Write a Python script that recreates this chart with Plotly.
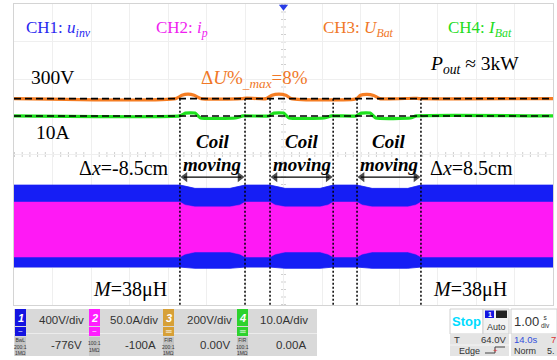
import plotly.graph_objects as go

W, H = 557, 360

# ---------------- data ----------------
# time axis in seconds (1 s/div, 14 divisions shown)
t_env = [0.0, 4.31, 4.44, 4.70, 5.61, 5.87, 6.00, 6.65, 6.78, 7.04, 7.95, 8.16,
         8.29, 8.91, 9.04, 9.30, 10.23, 10.44, 10.57, 14.0]
# CH1 inverter voltage envelope (V)
u_inv_top = [451, 451, 440, 416, 416, 436, 451, 451, 440, 416, 416, 436,
             451, 451, 440, 416, 416, 436, 451, 451]
u_inv_bot = [-421, -421, -428, -434, -434, -428, -421, -421, -428, -434, -434, -428,
             -421, -421, -428, -434, -434, -428, -421, -421]
# CH2 primary current envelope (A)
i_p_top = [36.8, 36.8, 33.0, 30.4, 30.4, 33.0, 36.8, 36.8, 33.0, 30.4, 30.4, 33.0,
           36.8, 36.8, 33.0, 30.4, 30.4, 33.0, 36.8, 36.8]
i_p_bot = [-36.3, -36.3, -32.5, -29.6, -29.6, -32.5, -36.3, -36.3, -32.5, -29.6, -29.6, -32.5,
           -36.3, -36.3, -32.5, -29.6, -29.6, -32.5, -36.3, -36.3]
# CH3 battery voltage (V)
t_ubat = [0.0, 4.20, 4.36, 4.52, 4.68, 4.86, 5.90, 6.05, 6.55, 6.70, 6.88, 7.06, 7.20,
          8.90, 9.00, 9.17, 9.34, 9.50, 10.40, 10.55, 14.0]
u_bat = [297, 297, 315, 321, 315, 297, 297, 300, 297, 315, 321, 315, 297,
         297, 315, 320, 314, 297, 299, 297, 297]
# CH4 battery current (A)
t_ibat = [0.0, 4.30, 4.45, 4.70, 4.85, 5.75, 5.95, 6.62, 6.75, 7.00, 7.15, 8.05,
          8.25, 8.88, 9.02, 9.25, 9.40, 10.30, 10.45, 14.0]
i_bat = [10.25, 10.25, 11.0, 11.0, 9.7, 9.7, 10.25, 10.25, 11.0, 11.0, 9.7, 9.7,
         10.25, 10.25, 11.0, 11.0, 9.7, 9.7, 10.25, 10.25]
# reference (dashed) levels for CH3 / CH4
ref_ubat = 297
ref_ibat = 10.25
# coil moving intervals (s)
mov_start = [4.31, 6.65, 8.91]
mov_end = [6.00, 8.29, 10.57]
# scope channel settings
ch_scale = [400, 50, 200, 10]
ch_offset = [-776, -100, 0, 0]
ch_scale_lbl = ["400V/div", "50.0A/div", "200V/div", "10.0A/div"]
ch_offset_lbl = ["-776V", "-100A", "0.00V", "0.00A"]
ch_probe_lbl = ["BwL<br>200:1<br>1MΩ", "100:1<br>1MΩ", "FIR<br>200:1<br>1MΩ", "FIR<br>100:1<br>1MΩ"]
ch_coupling = ["~", "~", "═", "═"]


def to_div(vals, ch):
    return [(v + ch_offset[ch]) / ch_scale[ch] for v in vals]


def px(x):
    return x / W


def py(y):
    return 1 - y / H


C_BLUE = "rgb(22,30,245)"
C_PINK = "rgb(255,25,245)"
C_ORANGE = "rgb(245,125,35)"
C_GREEN = "rgb(30,225,30)"
SERIF = "Liberation Serif"
SANS = "Liberation Sans"

fig = go.Figure()

# CH1 envelope (blue)
fig.add_trace(go.Scatter(
    x=t_env + t_env[::-1], y=to_div(u_inv_top, 0) + to_div(u_inv_bot, 0)[::-1],
    fill="toself", fillcolor=C_BLUE, line=dict(width=0.8, color=C_BLUE), mode="lines",
    hoverinfo="skip"))
# CH2 envelope (magenta)
fig.add_trace(go.Scatter(
    x=t_env + t_env[::-1], y=to_div(i_p_top, 1) + to_div(i_p_bot, 1)[::-1],
    fill="toself", fillcolor=C_PINK, line=dict(width=0.5, color=C_PINK), mode="lines",
    hoverinfo="skip"))
# CH3 / CH4
fig.add_trace(go.Scatter(x=t_ubat, y=to_div(u_bat, 2), mode="lines",
                         line=dict(color=C_ORANGE, width=3.2, shape="spline", smoothing=0.6)))
fig.add_trace(go.Scatter(x=t_ibat, y=to_div(i_bat, 3), mode="lines",
                         line=dict(color=C_GREEN, width=3.2, shape="spline", smoothing=0.4)))
# dashed reference lines
for lvl, ch in [(ref_ubat, 2), (ref_ibat, 3)]:
    fig.add_trace(go.Scatter(x=[0, 14], y=to_div([lvl, lvl], ch), mode="lines",
                             line=dict(color="black", width=1.6, dash="7px,4px")))
# dotted vertical boundaries
top_div = to_div([ref_ubat], 2)[0]
for t in mov_start + mov_end:
    fig.add_trace(go.Scatter(x=[t, t], y=[top_div, -4.0], mode="lines",
                             line=dict(color="black", width=1.5, dash="2px,2px")))
# double-headed arrows for the coil-moving intervals
arrow_y = -0.60
for s, e in zip(mov_start, mov_end):
    fig.add_trace(go.Scatter(x=[s + 0.1, e - 0.1], y=[arrow_y, arrow_y], mode="lines",
                             line=dict(color="black", width=1.4)))
    fig.add_trace(go.Scatter(x=[s + 0.13, e - 0.13], y=[arrow_y, arrow_y], mode="markers",
                             marker=dict(symbol=["triangle-left", "triangle-right"], size=[9, 9],
                                         color="black", line=dict(width=0))))
# trigger marker
fig.add_trace(go.Scatter(x=[7.0], y=[3.93], mode="markers", cliponaxis=False,
                         marker=dict(symbol="triangle-down", size=8, color="rgb(40,60,230)")))

shapes = []
# centre cross with ticks
shapes.append(dict(type="line", xref="x", yref="y", x0=0, x1=14, y0=0, y1=0,
                   line=dict(color="#dcdcdc", width=1), layer="below"))
shapes.append(dict(type="line", xref="x", yref="y", x0=0, x1=14, y0=0, y1=0,
                   line=dict(color="#cfcfcf", width=5, dash="1px,6.7px"), layer="below"))
shapes.append(dict(type="line", xref="x", yref="y", x0=7, x1=7, y0=-4, y1=4,
                   line=dict(color="#dcdcdc", width=1), layer="below"))
shapes.append(dict(type="line", xref="x", yref="y", x0=7, x1=7, y0=-4, y1=4,
                   line=dict(color="#cfcfcf", width=5, dash="1px,6.5px"), layer="below"))


def rect(x0, y0, x1, y1, fill, line="rgba(0,0,0,0)", lw=1):
    shapes.append(dict(type="rect", xref="paper", yref="paper", x0=px(x0), x1=px(x1),
                       y0=py(y1), y1=py(y0), fillcolor=fill, line=dict(color=line, width=lw),
                       layer="above"))


anns = []


def txt(x, y, text, size, color="black", family=SERIF, xanchor="left", yanchor="middle"):
    anns.append(dict(x=px(x), y=py(y), xref="paper", yref="paper", text=text, showarrow=False,
                     xanchor=xanchor, yanchor=yanchor, borderpad=0,
                     font=dict(size=size, color=color, family=family)))


# ---------------- bottom status bar ----------------
rect(14, 309, 317, 356, "#d9d9d9")
shapes.append(dict(type="line", xref="paper", yref="paper", x0=px(14), x1=px(317),
                   y0=py(333.5), y1=py(333.5), line=dict(color="#ececec", width=1)))
box_x = [15, 89, 163, 237]
box_col = ["rgb(20,20,225)", "rgb(255,30,255)", "rgb(215,160,55)", "rgb(45,210,45)"]
for i in range(4):
    x0 = box_x[i]
    rect(x0, 309, x0 + 11, 326, box_col[i])
    rect(x0, 327, x0 + 11, 336, box_col[i])
    rect(x0, 337, x0 + 11, 356, "#c4c4c4")
    txt(x0 + 5.5, 317.5, "<b><i>%d</i></b>" % (i + 1), 11, "white", SANS, "center")
    txt(x0 + 5.5, 331, ch_coupling[i], 8, "white", SANS, "center")
    txt(x0 + 5.5, 346.5, ch_probe_lbl[i], 5, "#333333", SANS, "center")
    xr = (box_x[i + 1] - 4) if i < 3 else 309
    txt(xr, 320, ch_scale_lbl[i], 11.5, "#333333", SANS, "right")
    txt(xr - 2, 345, ch_offset_lbl[i], 11.5, "#333333", SANS, "right")

# right part
rect(450, 309, 483, 334, "white", "#d0d0d0")
txt(466.5, 321, "<b>Stop</b>", 13, "rgb(0,220,255)", SANS, "center")
rect(483, 309, 509, 334, "#f2f2f2", "#d0d0d0")
rect(485, 310.5, 494, 318, "rgb(20,20,225)")
txt(489.5, 314.5, "<b>1</b>", 7, "white", SANS, "center")
rect(496, 310.5, 507, 318, "#222222")
txt(496, 327, "Auto", 9, "#333333", SANS, "center")
rect(450, 334, 509, 345, "#e4e4e4")
txt(453, 339.5, "T", 9.5, "#333333", SANS, "left")
txt(507, 339.5, "64.0V", 9.5, "#333333", SANS, "right")
rect(450, 345, 509, 356, "#e4e4e4")
shapes.append(dict(type="line", xref="paper", yref="paper", x0=px(450), x1=px(509),
                   y0=py(345), y1=py(345), line=dict(color="#f5f5f5", width=1)))
txt(469, 351, "Edge", 9, "#333333", SANS, "center")
shapes.append(dict(type="path", xref="paper", yref="paper",
                   path="M %f %f L %f %f L %f %f L %f %f" % (px(485), py(353), px(495), py(353),
                                                            px(495), py(347), px(505), py(347)),
                   line=dict(color="#444444", width=1)))
txt(495, 350.5, "+", 8, "rgb(220,60,60)", SANS, "center")
rect(511, 309, 557, 334, "white", "#d0d0d0")
txt(513, 321, "1.00", 13, "#333333", SANS, "left")
txt(545, 321, "s<br>div", 6.5, "#333333", SANS, "center")
rect(511, 334, 557, 356, "#e4e4e4")
txt(513, 339.5, "14.0s", 9.5, "rgb(50,80,220)", SANS, "left")
txt(550, 339.5, "7", 9.5, "rgb(220,50,50)", SANS, "left")
txt(513, 351, "Norm", 9, "#333333", SANS, "left")
txt(546, 351, "5.", 9, "#333333", SANS, "left")

# ---------------- waveform labels ----------------
txt(25, 29, "CH1: <i>u</i><sub><i>inv</i></sub>", 17, "rgb(40,40,240)")
txt(155, 29, "CH2: <i>i</i><sub><i>p</i></sub>", 17, "rgb(240,30,240)")
txt(322, 29, "CH3: <i>U</i><sub><i>Bat</i></sub>", 17, "rgb(240,120,40)")
txt(447, 29, "CH4: <i>I</i><sub><i>Bat</i></sub>", 17, "rgb(30,220,30)")
txt(429, 65, "<i>P</i><sub><i>out</i></sub> ≈ 3kW", 19.5)
txt(30, 77, "300V", 19.5)
txt(200, 79, "Δ<i>U</i>%<sub><i>_max</i></sub>=8%", 19, "rgb(240,120,40)")
txt(35, 132, "10A", 19.5)
txt(78, 168, "Δ<i>x</i>=-8.5cm", 20)
txt(429, 168, "Δ<i>x</i>=8.5cm", 20)
txt(92, 289, "<i>M</i>=38μH", 20)
txt(432, 289, "<i>M</i>=38μH", 20)

for s, e in zip(mov_start, mov_end):
    xc = 14 + (s + e) / 2 * 38.5
    txt(xc, 153, "<b><i>Coil</i></b>", 19, "black", SERIF, "center", "bottom")
    txt(xc, 153, "<b><i>moving</i></b>", 19, "black", SERIF, "center", "top")

axis_common = dict(showticklabels=False, ticks="", zeroline=False, showgrid=True,
                   gridcolor="#efefef", gridwidth=1, showline=True, mirror=True,
                   linecolor="#d4d4d4", linewidth=1, fixedrange=True)
fig.update_layout(
    width=W, height=H, margin=dict(l=0, r=0, t=0, b=0),
    paper_bgcolor="white", plot_bgcolor="white", showlegend=False,
    xaxis=dict(domain=[14 / W, 553 / W], range=[0, 14], dtick=1, **axis_common),
    yaxis=dict(domain=[1 - 305 / H, 1 - 4 / H], range=[-4, 4], dtick=1, **axis_common),
    shapes=shapes, annotations=anns, hovermode=False,
)
fig.write_html("out.html")
